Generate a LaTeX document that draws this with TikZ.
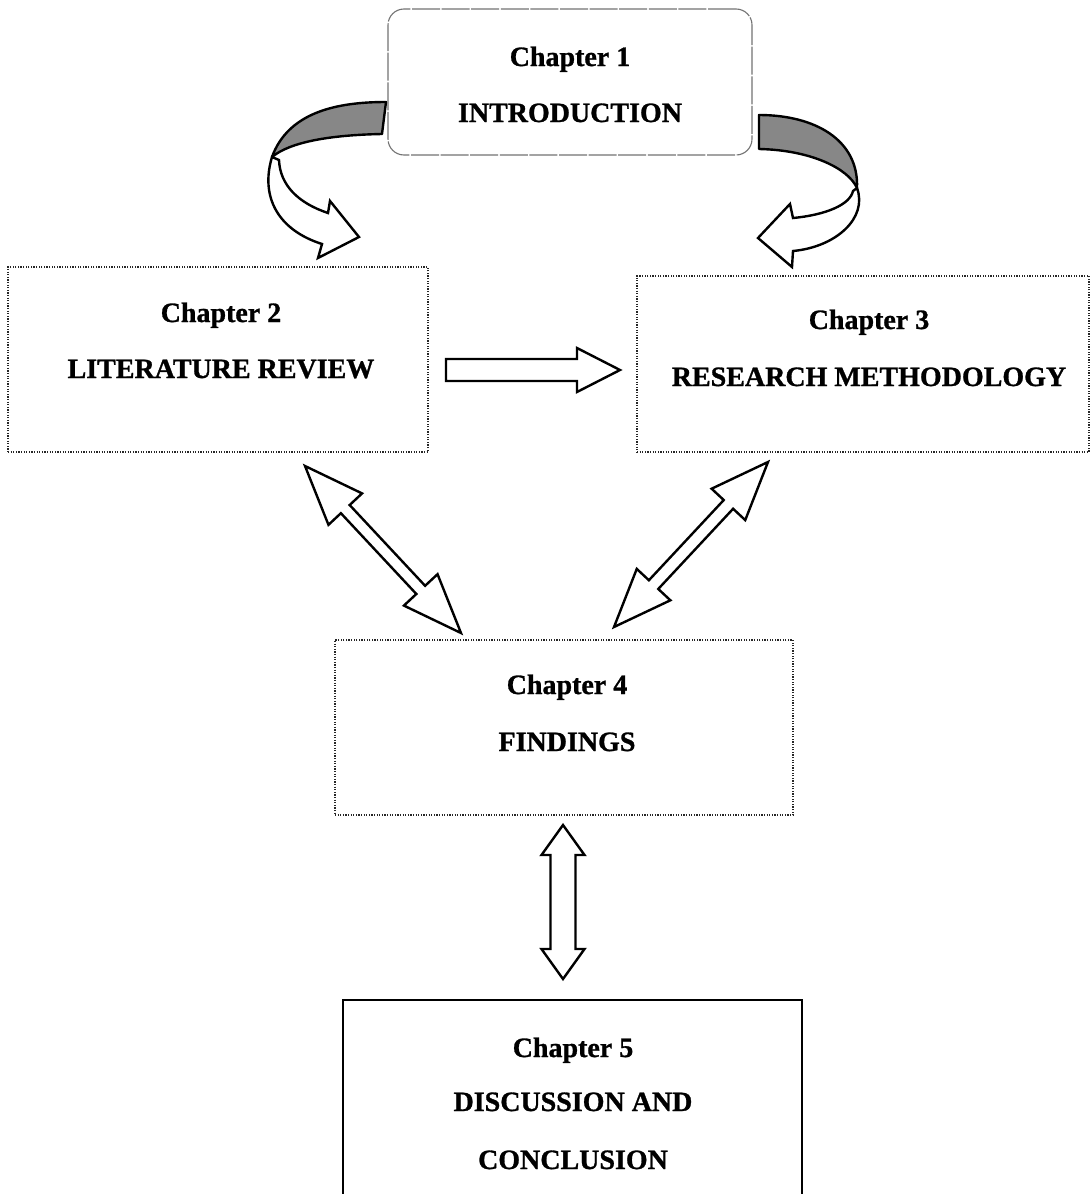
\documentclass[tikz,border=0pt]{standalone}
\usepackage{fontspec}
\setmainfont{Liberation Serif}
\newfontfamily\heavyserif{Liberation Serif Bold}[FakeBold=1]
\usetikzlibrary{calc}

% single-headed block arrow: from, to, head length, head half width, shaft half width
\newcommand{\onewayarrow}[5]{%
  \path (#1) coordinate (bA) (#2) coordinate (bB) ($(bB)!#3!(bA)$) coordinate (bH);
  \draw[blockarrow] ($(bA)!#5!90:(bB)$) -- ($(bH)!#5!-90:(bA)$) -- ($(bH)!#4!-90:(bA)$)
    -- (bB) -- ($(bH)!#4!90:(bA)$) -- ($(bH)!#5!90:(bA)$) -- ($(bA)!#5!-90:(bB)$) -- cycle;
}
% double-headed block arrow: end, end, head length, head half width, shaft half width
\newcommand{\twowayarrow}[5]{%
  \path (#1) coordinate (bA) (#2) coordinate (bB)
    ($(bA)!#3!(bB)$) coordinate (bG) ($(bB)!#3!(bA)$) coordinate (bH);
  \draw[blockarrow] (bA) -- ($(bG)!#4!90:(bB)$) -- ($(bG)!#5!90:(bB)$)
    -- ($(bH)!#5!-90:(bA)$) -- ($(bH)!#4!-90:(bA)$) -- (bB)
    -- ($(bH)!#4!90:(bA)$) -- ($(bH)!#5!90:(bA)$)
    -- ($(bG)!#5!-90:(bB)$) -- ($(bG)!#4!-90:(bB)$) -- cycle;
}

\begin{document}
\begin{tikzpicture}[x=0.5pt,y=-0.5pt,
  lbl/.style={font=\heavyserif\fontsize{14}{16}\selectfont, anchor=base, inner sep=0pt},
  boxbase/.style={rectangle, inner sep=0pt, outer sep=0pt},
  dotbox/.style={boxbase, draw=black!85, line width=0.85pt, dash pattern=on 0.6pt off 0.7pt},
  roundbox/.style={boxbase, draw=black!55, line width=0.55pt, rounded corners=8pt,
    dash pattern=on 14pt off 0.8pt},
  solidbox/.style={boxbase, draw=black, line width=1.1pt},
  blockarrow/.style={draw=black, line width=1.2pt, fill=white, line join=miter},
  band/.style={draw=black, line width=1.2pt, fill=black!47, line join=round}]

\clip (0,0) rectangle (1090,1194);
\fill[white] (0,0) rectangle (1090,1194);

% chapter boxes
\node[roundbox, minimum width=182pt, minimum height=73pt] (ch1) at (570,82) {};
\node[dotbox, minimum width=210pt, minimum height=92.5pt] (ch2) at (218,359.5) {};
\node[dotbox, minimum width=226pt, minimum height=88pt] (ch3) at (863,364) {};
\node[dotbox, minimum width=229pt, minimum height=87.5pt] (ch4) at (564,727.5) {};
\node[solidbox, minimum width=229.5pt, minimum height=125pt] (ch5) at (572.5,1125) {};

% box texts
\node[lbl] (t1a) at (570,66) {Chapter 1};
\node[lbl] (t1b) at (570,122) {INTRODUCTION};
\node[lbl] (t2a) at (221,322) {Chapter 2};
\node[lbl] (t2b) at (221,378) {LITERATURE REVIEW};
\node[lbl] (t3a) at (869,329) {Chapter 3};
\node[lbl] (t3b) at (869,386) {RESEARCH METHODOLOGY};
\node[lbl] (t4a) at (567,694) {Chapter 4};
\node[lbl] (t4b) at (567,751) {FINDINGS};
\node[lbl] (t5a) at (573,1057) {Chapter 5};
\node[lbl] (t5b) at (573,1111) {DISCUSSION AND};
\node[lbl] (t5c) at (573,1169) {CONCLUSION};

% curved arrow from chapter 1 down to chapter 2
\draw[band] (386,102) .. controls (335,102) and (288,113) .. (272,157)
  .. controls (290,142) and (330,135) .. (382,134) -- cycle;
\draw[blockarrow] (272,157) .. controls (260,197) and (278,230) .. (322,244)
  -- (318,258) -- (359,237) -- (330,201) -- (328,213)
  .. controls (298,203) and (280,185) .. (279,160) -- cycle;

% curved arrow from chapter 1 down to chapter 3
\draw[band] (759,115) .. controls (815,115) and (859,140) .. (857,188)
  .. controls (848,168) and (810,150) .. (759,149) -- cycle;
\draw[blockarrow] (857,188) .. controls (868,218) and (836,247) .. (793,251)
  -- (792,267) -- (758,238) -- (790,204) -- (793,218)
  .. controls (825,215) and (850,205) .. (853,191) -- cycle;

% straight arrows between the boxes
\coordinate (r0) at (446,370);
\coordinate (r1) at (620,370);
\onewayarrow{r0}{r1}{21.5pt}{11pt}{5.5pt}

\coordinate (d2a) at (305,466);
\coordinate (d2b) at (461,633);
\twowayarrow{d2a}{d2b}{29.5pt}{11.5pt}{3pt}

\coordinate (d3a) at (768,462);
\coordinate (d3b) at (614,627);
\twowayarrow{d3a}{d3b}{29pt}{11.5pt}{3.2pt}

\coordinate (v4a) at (563,825);
\coordinate (v5a) at (563,979);
\twowayarrow{v4a}{v5a}{15pt}{10.75pt}{6.25pt}

\end{tikzpicture}
\end{document}
